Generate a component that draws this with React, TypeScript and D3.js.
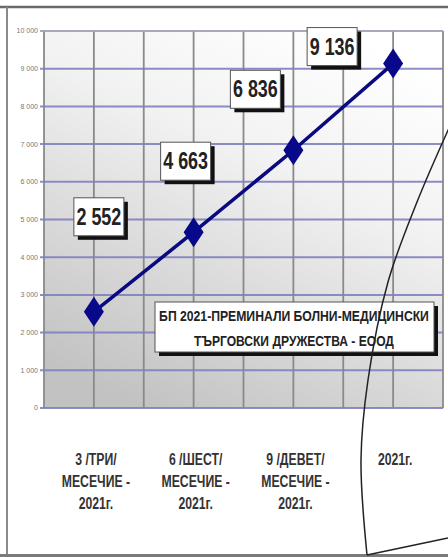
import React, { useLayoutEffect, useRef, useState } from "react";
import * as d3 from "d3";

const categories: string[][] = [
  ["3 /ТРИ/", "МЕСЕЧИЕ -", "2021г."],
  ["6 /ШЕСТ/", "МЕСЕЧИЕ -", "2021г."],
  ["9 /ДЕВЕТ/", "МЕСЕЧИЕ -", "2021г."],
  ["2021г."],
];
const values = [2552, 4663, 6836, 9136];
const valueLabels = ["2 552", "4 663", "6 836", "9 136"];
const yTicks = [0, 1000, 2000, 3000, 4000, 5000, 6000, 7000, 8000, 9000, 10000];
const yTickLabels = ["0", "1 000", "2 000", "3 000", "4 000", "5 000", "6 000", "7 000", "8 000", "9 000", "10 000"];
const titleLines = ["БП 2021-ПРЕМИНАЛИ  БОЛНИ-МЕДИЦИНСКИ", "ТЪРГОВСКИ ДРУЖЕСТВА - ЕООД"];

// layout: label box offsets relative to each point
const labelOffsets: [number, number][] = [[5, -95], [-8, -71], [-38, -61], [-61, -17]];
const titleWidths = [270, 200];

const W = 448, H = 557;
const plot = { left: 44, right: 443, top: 31, bottom: 408 };
const FONT = "'Liberation Sans Narrow', 'Arial Narrow', 'Liberation Sans', sans-serif";

export default function App() {
  const x = d3.scaleBand<number>().domain(values.map((_, i) => i)).range([plot.left, plot.right]).padding(0);
  const y = d3.scaleLinear().domain([0, 10000]).range([plot.bottom, plot.top]);
  const cx = (i: number) => (x(i) as number) + x.bandwidth() / 2;

  const titleRefs = useRef<(SVGTextElement | null)[]>([]);
  const [titleScales, setTitleScales] = useState<number[]>([0.8, 0.8]);
  useLayoutEffect(() => {
    const s = titleRefs.current.map((el, i) => {
      if (!el) return 0.8;
      const w = el.getComputedTextLength();
      return w > 0 ? titleWidths[i] / w : 0.8;
    });
    setTitleScales(s);
  }, []);

  const vLines: number[] = [];
  values.forEach((_, i) => { vLines.push(x(i) as number); vLines.push(cx(i)); });
  vLines.push(plot.right);

  const line = d3.line<number>().x((_, i) => cx(i)).y(d => y(d));
  const curl = d3.line().curve(d3.curveCatmullRom.alpha(0.5))([
    [449, 128], [417, 202], [388, 282], [368, 380], [361, 460], [367, 555],
  ]) as string;

  const boxW = 50, boxH = 38;

  return (
    <svg width={W} height={H} style={{ position: "absolute", left: 0, top: 0, background: "#fff" }}>
      <defs>
        <linearGradient id="bg" x1="0.75" y1="0" x2="0.25" y2="1">
          <stop offset="0" stopColor="#ffffff" />
          <stop offset="0.35" stopColor="#f2f2f2" />
          <stop offset="1" stopColor="#c2c2c2" />
        </linearGradient>
      </defs>
      <rect x={0} y={0} width={W} height={H} fill="#fff" />
      {/* outer frame */}
      <line x1={0} x2={W} y1={7} y2={7} stroke="#6a6a6a" strokeWidth={2.5} />
      <line x1={7} x2={7} y1={7} y2={H} stroke="#8a8a8a" strokeWidth={2} />
      <line x1={0} x2={W} y1={555.5} y2={555.5} stroke="#7a7a7a" strokeWidth={3} />

      {/* plot background */}
      <rect x={plot.left} y={plot.top} width={plot.right - plot.left} height={plot.bottom - plot.top} fill="url(#bg)" />
      {/* vertical gridlines */}
      {vLines.map((vx, i) => (
        <line key={"v" + i} x1={vx} x2={vx} y1={plot.top} y2={plot.bottom} stroke="#8a8a8a" strokeWidth={1.8} />
      ))}
      {/* horizontal gridlines */}
      {yTicks.map((t, i) => (
        <line key={"h" + i} x1={plot.left - 4} x2={plot.right} y1={y(t)} y2={y(t)}
          stroke={t === 10000 ? "#a0a0b8" : "#8080c0"} strokeWidth={t === 0 ? 2.2 : 2} opacity={0.9} />
      ))}
      {/* y tick labels */}
      {yTicks.map((t, i) => (
        <text key={"yt" + i} x={38} y={y(t)} dy="0.35em" textAnchor="end" fontFamily={FONT}
          fontSize={7} fill="#777">{yTickLabels[i]}</text>
      ))}

      {/* series line */}
      <path d={line(values) as string} fill="none" stroke="#0a0a80" strokeWidth={3.5} />
      {values.map((v, i) => {
        const px = cx(i), py = y(v);
        return (
          <path key={"m" + i} d={`M${px},${py - 15}L${px + 10},${py}L${px},${py + 15}L${px - 10},${py}Z`} fill="#08088a" />
        );
      })}

      {/* value labels */}
      {values.map((v, i) => {
        const bx = cx(i) + labelOffsets[i][0];
        const by = y(v) + labelOffsets[i][1];
        return (
          <g key={"l" + i}>
            <rect x={bx - boxW / 2 + 4} y={by - boxH / 2 + 4} width={boxW} height={boxH} fill="#111" />
            <rect x={bx - boxW / 2} y={by - boxH / 2} width={boxW} height={boxH} fill="#fff" stroke="#555" strokeWidth={1} />
            <g transform={`translate(${bx},${by + 8}) scale(0.78,1)`}>
              <text textAnchor="middle" fontFamily={FONT} fontWeight="bold" fontSize={23} fill="#222">{valueLabels[i]}</text>
            </g>
          </g>
        );
      })}

      {/* title box */}
      <rect x={159} y={306} width={279} height={50} fill="#111" />
      <rect x={155} y={302} width={279} height={50} fill="#fff" stroke="#555" strokeWidth={1} />
      {titleLines.map((t, i) => (
        <g key={"t" + i} transform={`translate(294,${321 + i * 25}) scale(${titleScales[i]},1)`}>
          <text ref={el => { titleRefs.current[i] = el; }} textAnchor="middle"
            fontFamily={FONT} fontWeight="bold" fontSize={15} fill="#222">{t}</text>
        </g>
      ))}

      {/* category labels */}
      {categories.map((lines, i) => (
        <g key={"c" + i}>
          {lines.map((ln, j) => (
            <g key={j} transform={`translate(${cx(i) + 2},${465 + j * 22}) scale(0.72,1)`}>
              <text textAnchor="middle" fontFamily={FONT} fontWeight="bold" fontSize={17} fill="#333">{ln}</text>
            </g>
          ))}
        </g>
      ))}

      {/* page curl */}
      <path d={curl} fill="none" stroke="#222" strokeWidth={1.5} />
      <line x1={367} y1={555} x2={448} y2={538} stroke="#222" strokeWidth={1.5} />
    </svg>
  );
}
